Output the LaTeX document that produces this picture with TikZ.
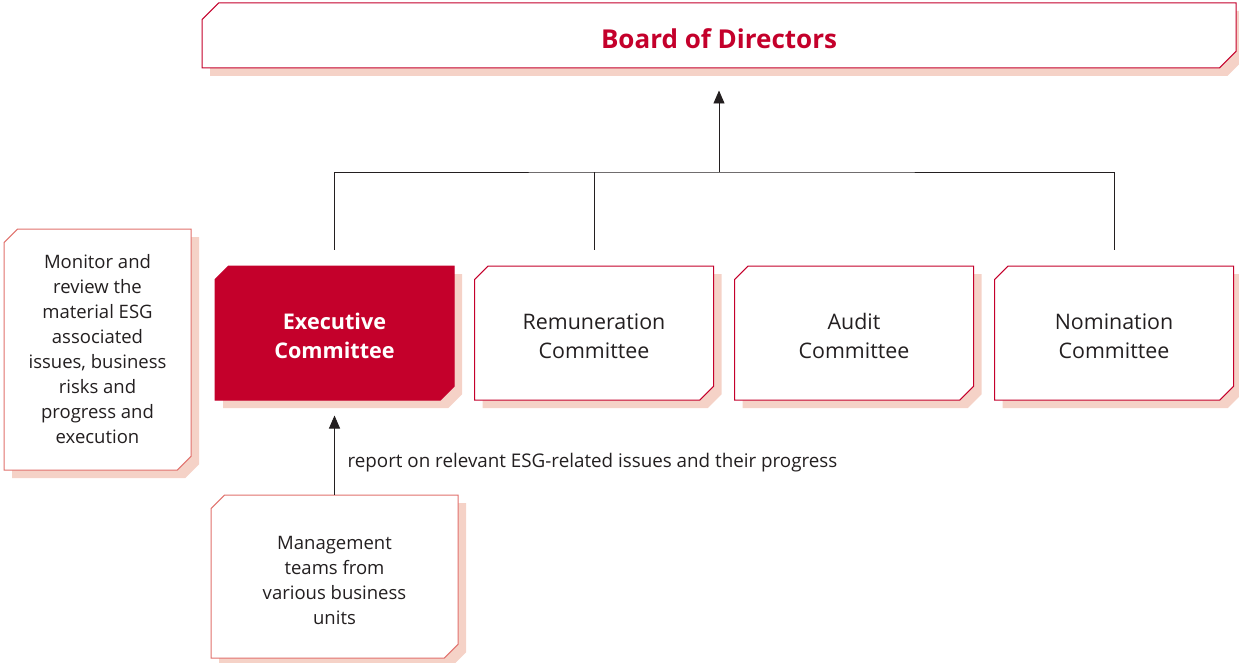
\documentclass[tikz,border=0pt]{standalone}
\usepackage{fontspec}
\setmainfont{Open Sans}
\usepackage{xcolor}
\usetikzlibrary{arrows.meta, positioning, calc, shapes.misc, shadows}

\definecolor{crimson}{HTML}{C4002B}
\definecolor{salmon}{HTML}{E1716C}
\definecolor{shadowpink}{HTML}{F5D2C7}
\definecolor{inkgrey}{HTML}{231F20}

% taller first line, pushes text a little down
\newcommand{\txtdrop}{\rule{0pt}{22pt}}

\tikzset{
  cbox/.style={chamfered rectangle, chamfered rectangle corners={north west, south east},
    chamfered rectangle xsep=10pt, draw=crimson, line width=1pt, fill=white,
    drop shadow={shadow xshift=8pt, shadow yshift=-8pt, fill=shadowpink, opacity=1},
    inner sep=0pt, align=center, text=inkgrey, font=\fontsize{18.5}{25}\selectfont},
  combox/.style={cbox, minimum width=239pt, minimum height=134pt,
    font=\fontsize{21.4}{29}\selectfont},
  notebox/.style={cbox, draw=salmon},
  link/.style={draw=inkgrey, line width=0.9pt},
  arr/.style={link, -{Triangle[width=11pt,length=13pt]}}
}

\begin{document}
\begin{tikzpicture}[x=1pt,y=-1pt]
\useasboundingbox (0,0) rectangle (1239,663);

% Board
\node[cbox, chamfered rectangle xsep=15pt, minimum width=1034pt, minimum height=65pt,
  text=crimson, font=\fontsize{26}{29}\selectfont\bfseries] (board) at (719,35.5) {\rule{0pt}{26pt}Board of Directors};

% Committees
\node[combox, fill=crimson, text=white, font=\fontsize{21.6}{29}\selectfont\bfseries] (exec) at (334.5,333) {\txtdrop Executive\\Committee};
\node[combox] (remun) at (594,333) {\txtdrop Remuneration\\Committee};
\node[combox] (audit) at (854,333) {\txtdrop Audit\\Committee};
\node[combox] (nomin) at (1114,333) {\txtdrop Nomination\\Committee};

% Side notes
\node[notebox, minimum width=187pt, minimum height=241pt] (monitor) at (97.5,349.5)
  {Monitor and\\review the\\material ESG\\associated\\issues, business\\risks and\\progress and\\execution};
\node[notebox, minimum width=247pt, minimum height=163pt] (mgmt) at (334.5,576.5)
  {\txtdrop Management\\teams from\\various business\\units};

% Connectors
\coordinate (join) at (719,172);
\draw[link] ([yshift=16pt]exec.north) |- (join) -| ([yshift=16pt]nomin.north);
\draw[link] ([yshift=16pt]remun.north) -- (remun.north |- join);
\draw[arr] (join) -- ([yshift=-22pt]board.south);
\draw[arr] (mgmt.north) -- ([yshift=-15pt]exec.south);
\node[anchor=west, text=inkgrey, font=\fontsize{18.8}{20}\selectfont] (report) at (344,463)
  {report on relevant ESG-related issues and their progress};
\end{tikzpicture}
\end{document}
